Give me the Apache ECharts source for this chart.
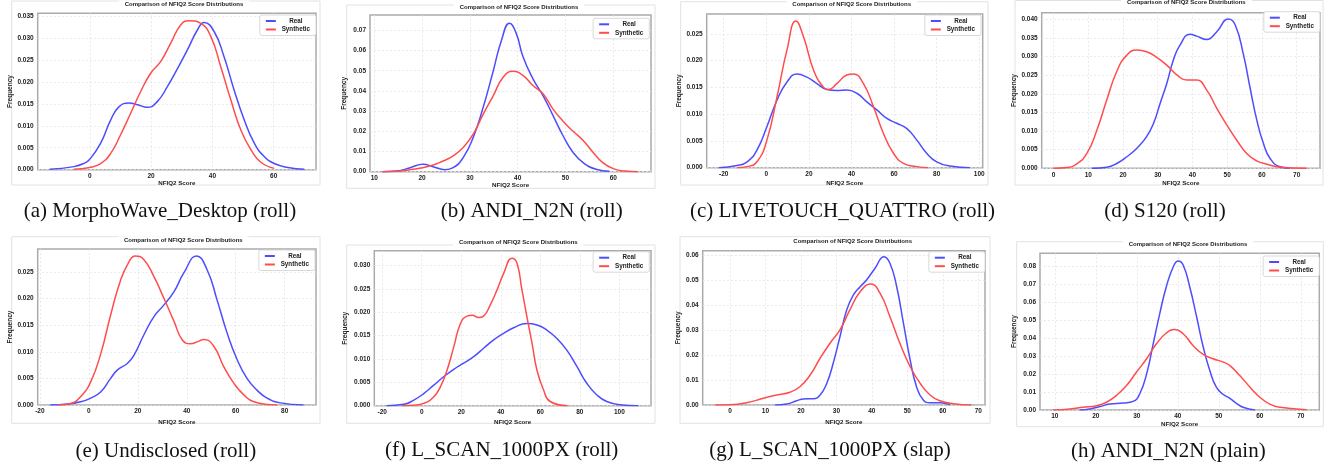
<!DOCTYPE html>
<html><head><meta charset="utf-8">
<script src="https://cdn.jsdelivr.net/npm/echarts@6/dist/echarts.min.js"></script>
<style>html,body{margin:0;padding:0;background:#fff;}#c{width:1330px;height:465px;}</style>
</head><body><div id="c"></div>
<script>
// ---------- DATA (x = NFIQ2 score, y = density) ----------
const realA = [[-13.1,0.0001],[-5.2,0.0007],[-2,0.0014],[0,0.0024],[3.5,0.006],[6.8,0.0113],[9.5,0.0143],[12.8,0.0152],[15.5,0.0148],[18.8,0.0142],[22,0.0155],[25.3,0.0189],[28.6,0.023],[31.8,0.0272],[35.1,0.0318],[37.3,0.0335],[40.6,0.0314],[43.8,0.0257],[47.1,0.0181],[50.4,0.0113],[53.7,0.006],[56.9,0.003],[60.2,0.0014],[64.6,0.0005],[70,0.0001]];
const synA = [[-5.2,0.0001],[0,0.0005],[3.5,0.0014],[6.8,0.0037],[10,0.0079],[13.3,0.0128],[16.6,0.0178],[19.8,0.0219],[23.1,0.0246],[26.4,0.0288],[29.7,0.033],[32.4,0.0339],[36.2,0.0333],[39.5,0.0303],[42.7,0.0235],[46,0.0159],[49.3,0.009],[52.6,0.0045],[55.8,0.0017],[60.2,0.0003]];
const realB = [[11.7,0],[14.7,0.0003],[17.5,0.002],[20.2,0.0037],[22.3,0.0025],[24.8,0.001],[26.5,0.002],[28.6,0.007],[30.7,0.017],[32.8,0.032],[34.9,0.05],[36.6,0.065],[38.3,0.0735],[39.7,0.0685],[41.1,0.057],[43.2,0.046],[45.3,0.0377],[47.4,0.0278],[49.5,0.0178],[51.6,0.0095],[53.7,0.0045],[56.4,0.0012],[59.2,0.0002]];
const synB = [[11.7,0],[14.7,0.0002],[18.1,0.0012],[21.6,0.0028],[24.4,0.0053],[26.5,0.0078],[28.6,0.012],[30.7,0.0186],[32.8,0.0285],[34.9,0.0377],[37,0.0469],[39,0.0497],[41.1,0.0477],[43.2,0.0427],[45.3,0.0386],[47.4,0.031],[49.5,0.025],[51.6,0.02],[53.7,0.0155],[55.8,0.0095],[57.8,0.0045],[60,0.0015],[62.5,0.0003],[65.2,0]];
const realC = [[-22.3,0],[-13.75,0.0004],[-9,0.0011],[-4.4,0.0033],[0.3,0.0077],[5,0.0126],[9.7,0.016],[14.4,0.0175],[19.1,0.0169],[23.75,0.0157],[28.4,0.0146],[33.1,0.0144],[37.8,0.0145],[42.5,0.0139],[47.2,0.0123],[51.9,0.0108],[56.6,0.0092],[61.25,0.0083],[66,0.0073],[70.6,0.0052],[75.3,0.0027],[80,0.0011],[86.25,0.0003],[95.6,0]];
const synC = [[-13.75,0],[-9,0.0002],[-4.4,0.0011],[0.3,0.0052],[5,0.0132],[9.7,0.022],[13.9,0.0274],[17.5,0.0244],[22.2,0.0182],[26.9,0.015],[29.2,0.0146],[33.1,0.0157],[37.8,0.0173],[40.9,0.0175],[45.6,0.0157],[50.3,0.0114],[55,0.0064],[59.7,0.0027],[64.4,0.0008],[70.6,0.0002],[76,0]];
const realD = [[11,0],[15.3,0.0003],[18.2,0.0013],[21.1,0.0031],[24,0.0054],[26.8,0.0085],[28.8,0.0121],[30.7,0.0175],[32.6,0.0228],[34.5,0.0291],[36.4,0.0331],[39.3,0.036],[41.2,0.0355],[44.1,0.0346],[47,0.0367],[50.3,0.0401],[52.3,0.0385],[54.7,0.0304],[56.6,0.0215],[58.5,0.013],[60.4,0.0067],[62.3,0.0027],[65.2,0.0004],[68,0]];
const synD = [[0,0],[3.8,0.0002],[6.7,0.0012],[9.6,0.004],[12.5,0.0103],[15.3,0.0183],[18.2,0.026],[21.1,0.0304],[24,0.0318],[26.8,0.0313],[29.7,0.0298],[32.6,0.0277],[35.5,0.0251],[38.4,0.0237],[41.2,0.0237],[44.1,0.021],[47,0.0161],[49.9,0.0116],[52.7,0.0076],[55.6,0.004],[58.5,0.002],[61.4,0.0011],[65.2,0.0003],[72.9,0]];
const realE = [[-15.8,0],[-8.7,0.0002],[-3.3,0.0006],[0.8,0.0013],[4.9,0.0025],[8.9,0.005],[11.7,0.0066],[15.7,0.0078],[18.5,0.0094],[22.5,0.0132],[26.6,0.0166],[30.7,0.0188],[34.8,0.0213],[38.8,0.0248],[44,0.028],[48.3,0.0254],[52.4,0.0197],[56.5,0.0135],[60.6,0.0085],[64.6,0.005],[68.7,0.0028],[72.8,0.0013],[78.2,0.0004],[87.7,0]];
const synE = [[-12.8,0],[-7.4,0.0003],[-3.3,0.0016],[0.8,0.0044],[4.9,0.0097],[8.9,0.0169],[13,0.0235],[16.4,0.0269],[18.9,0.028],[22.5,0.0273],[26.6,0.0241],[30.7,0.02],[34.8,0.0157],[38.2,0.0122],[41.5,0.0115],[44.5,0.0119],[47,0.0123],[51.1,0.011],[55.1,0.0072],[59.2,0.0041],[63.3,0.0019],[67.4,0.0006],[76.9,0]];
const realF = [[-17.8,0],[-9,0.0003],[-4,0.0012],[1,0.0026],[6.1,0.0044],[11.1,0.0062],[16.2,0.0078],[21.2,0.0091],[26.3,0.0105],[31.3,0.0123],[36.4,0.0141],[41.4,0.0155],[46.5,0.0167],[53.2,0.0176],[58.3,0.0173],[63.3,0.0162],[68.4,0.0144],[73.4,0.0119],[78.5,0.0084],[83.5,0.0048],[88.6,0.0023],[93.6,0.0009],[100.4,0.0002],[109.6,0]];
const synF = [[-9.9,0],[-4,0.0001],[1,0.0005],[6.1,0.0019],[9.5,0.0041],[12.8,0.0076],[16.2,0.0126],[19.6,0.0176],[22.9,0.0192],[25.5,0.0194],[28.8,0.0189],[31.3,0.0192],[34.7,0.0216],[38.1,0.0248],[41.4,0.0283],[45.7,0.0316],[48.2,0.0305],[50.7,0.0248],[53.2,0.0191],[55.8,0.0134],[58.3,0.0076],[61.6,0.0034],[65,0.0009],[73.8,0]];
const realG = [[12.7,0],[16,0.0004],[18.8,0.0017],[20.7,0.0024],[23.5,0.0025],[25.4,0.004],[27.3,0.0087],[29.1,0.0167],[31,0.0273],[32.9,0.038],[34.8,0.044],[36.7,0.0473],[38.5,0.05],[40.9,0.0547],[43.4,0.0593],[45.1,0.0567],[47,0.0473],[48.9,0.0327],[50.8,0.018],[52.6,0.0073],[54.5,0.002],[56.4,0.0009],[59.2,0.0009],[62,0.0001]];
const synG = [[-4.2,0],[0,0.0001],[4.7,0.0009],[9.4,0.0027],[13.2,0.004],[16.9,0.0051],[19.7,0.0073],[22.6,0.012],[25.4,0.0187],[28.2,0.0247],[31,0.03],[33.8,0.038],[36.7,0.0453],[39.7,0.0484],[42.3,0.0447],[45.1,0.0353],[47.9,0.0247],[50.8,0.0153],[53.6,0.0087],[56.4,0.004],[59.2,0.0017],[63,0.0005],[68.1,0]];
const realH = [[16.1,0],[18.5,0.0006],[21,0.0019],[23.4,0.0033],[26.7,0.0039],[29.1,0.0048],[30.7,0.0089],[32.4,0.0201],[34,0.0368],[35.6,0.0536],[37.2,0.0685],[38.9,0.0796],[40.1,0.0828],[41.3,0.0806],[42.9,0.0685],[44.6,0.0517],[46.2,0.035],[47.8,0.022],[49.4,0.0127],[51.1,0.0086],[52.7,0.0065],[54.3,0.0037],[55.9,0.0015],[58.8,0]];
const synH = [[9.6,0],[13.7,0.0006],[16.9,0.0015],[20.2,0.0024],[22.6,0.0043],[25,0.008],[27.5,0.0136],[29.9,0.021],[32.4,0.0285],[34.8,0.0368],[37.2,0.0428],[39.3,0.0447],[41.3,0.0424],[43.7,0.0359],[46.2,0.0309],[48.6,0.0285],[51.1,0.0266],[52.7,0.0247],[55.1,0.0192],[57.6,0.0127],[60,0.0071],[62.4,0.0033],[64.9,0.0015],[71.4,0.0002]];

// tick values
const xTicksA = [0,20,40,60];
const xTicksB = [10,20,30,40,50,60];
const xTicksC = [-20,0,20,40,60,80,100];
const xTicksD = [0,10,20,30,40,50,60,70];
const xTicksE = [-20,0,20,40,60,80];
const xTicksF = [-20,0,20,40,60,80,100];
const xTicksG = [0,10,20,30,40,50,60,70];
const xTicksH = [10,20,30,40,50,60,70];
const yTicksA = [0,0.005,0.01,0.015,0.02,0.025,0.03,0.035];
const yTicksB = [0,0.01,0.02,0.03,0.04,0.05,0.06,0.07];
const yTicksC = [0,0.005,0.01,0.015,0.02,0.025];
const yTicksD = [0,0.005,0.01,0.015,0.02,0.025,0.03,0.035,0.04];
const yTicksE = [0,0.005,0.01,0.015,0.02,0.025];
const yTicksF = [0,0.005,0.01,0.015,0.02,0.025,0.03];
const yTicksG = [0,0.01,0.02,0.03,0.04,0.05,0.06];
const yTicksH = [0,0.01,0.02,0.03,0.04,0.05,0.06,0.07,0.08];

const captions = ['(a) MorphoWave_Desktop (roll)','(b) ANDI_N2N (roll)','(c) LIVETOUCH_QUATTRO (roll)','(d) S120 (roll)',
                  '(e) Undisclosed (roll)','(f) L_SCAN_1000PX (roll)','(g) L_SCAN_1000PX (slap)','(h) ANDI_N2N (plain)'];
const seriesNames = ['Real','Synthetic'];
const chartTitle = 'Comparison of NFIQ2 Score Distributions';
const xName = 'NFIQ2 Score';
const yName = 'Frequency';

// ---------- LAYOUT ----------
const panelData = [
  [realA,synA,xTicksA,yTicksA,3],[realB,synB,xTicksB,yTicksB,2],[realC,synC,xTicksC,yTicksC,3],[realD,synD,xTicksD,yTicksD,3],
  [realE,synE,xTicksE,yTicksE,3],[realF,synF,xTicksF,yTicksF,3],[realG,synG,xTicksG,yTicksG,2],[realH,synH,xTicksH,yTicksH,2]
];
const layout = [
 {l:37.7,t:13.3,w:278.3,h:156.4,xmin:-17,xmax:73.8,ymax:0.0356,ti:[178,5],lr:1014,lt:15,xg:11,yg:23,cap:[160,211.7],fr:[11.7,1,308.3,184]},
 {l:370,t:15,w:281,h:156.7,xmin:9.1,xmax:67.9,ymax:0.0776,ti:[513,8.3],lr:680.7,lt:18.3,xg:9,yg:22,cap:[531.7,211.7],fr:[346.7,5,308.3,183.3]},
 {l:706.7,t:14,w:276,h:153.7,xmin:-28,xmax:101.6,ymax:0.0287,ti:[845.7,5],lr:349,lt:15,xg:13,yg:24,cap:[842.5,211.7],fr:[680.7,1.7,307.3,183.3]},
 {l:1041.7,t:12.7,w:278.3,h:155.6,xmin:-3.4,xmax:76.7,ymax:0.0418,ti:[1180.3,2.7],lr:10,lt:11.7,xg:12,yg:24,cap:[1165,211.7],fr:[1015,0.5,308,184.5]},
 {l:37.7,t:249,w:278.3,h:156,xmin:-20.9,xmax:92.8,ymax:0.0293,ti:[177.3,240.7],lr:1015,lt:250,xg:14.5,yg:23,cap:[165.8,451.7],fr:[11.7,236.7,308.3,186.6]},
 {l:374.3,t:250.7,w:276.7,h:155,xmin:-24,xmax:116,ymax:0.0332,ti:[512.3,242.7],lr:680.7,lt:251.7,xg:14,yg:26,cap:[501.7,450],fr:[346.7,245,308.3,178.3]},
 {l:702.7,t:250.7,w:282.3,h:154.3,xmin:-7.7,xmax:71.9,ymax:0.0617,ti:[846.7,242],lr:345,lt:251.7,xg:14.5,yg:20,cap:[830,450],fr:[680,236.7,310,186.6]},
 {l:1040,t:253.3,w:279.3,h:156.7,xmin:6.4,xmax:74.5,ymax:0.0871,ti:[1182,245.3],lr:10.7,lt:256,xg:9,yg:22,cap:[1168.3,451.7],fr:[1016.7,241.7,306.6,185]}
];

const FONT = 'Liberation Sans';
const BLUE = 'rgb(77,77,255)', RED = 'rgb(255,77,77)';
const TXT = '#222';
const grid=[], xAxis=[], yAxis=[], series=[], title=[], legend=[], graphic=[];

layout.forEach((L,i)=>{
  const [real,syn,xT,yT,dec] = panelData[i];
  graphic.push({type:'rect', z:-10, shape:{x:L.fr[0],y:L.fr[1],width:L.fr[2],height:L.fr[3]}, style:{fill:'none',stroke:'#e2e2e2',lineWidth:1}});
  graphic.push({type:'text', x:L.cap[0], y:L.cap[1], style:{text:captions[i], font:'21px "Liberation Serif"', fill:'#111', align:'center', verticalAlign:'middle'}});
  grid.push({left:L.l, top:L.t, width:L.w, height:L.h, show:true, borderColor:'#ababab', borderWidth:1.5, backgroundColor:'#fff'});
  xAxis.push({type:'value', gridIndex:i, min:L.xmin, max:L.xmax, name:xName, nameLocation:'middle', nameGap:L.xg,
    nameTextStyle:{fontFamily:FONT,fontSize:6.2,fontWeight:'bold',color:TXT},
    axisLine:{show:false}, axisTick:{show:false, customValues:xT},
    axisLabel:{customValues:xT, fontFamily:FONT, fontSize:6.5, fontWeight:'bold', color:TXT, margin:3},
    splitLine:{show:true, lineStyle:{color:'#e4e4e4', type:[2,2], width:0.8}}});
  yAxis.push({type:'value', gridIndex:i, min:0, max:L.ymax, name:yName, nameLocation:'middle', nameGap:L.yg,
    nameTextStyle:{fontFamily:FONT,fontSize:6.5,fontWeight:'bold',color:TXT},
    axisLine:{show:false}, axisTick:{show:false, customValues:yT},
    axisLabel:{customValues:yT, fontFamily:FONT, fontSize:6.5, fontWeight:'bold', color:TXT, margin:4, formatter:v=>v.toFixed(dec)},
    splitLine:{show:true, lineStyle:{color:'#e4e4e4', type:[2,2], width:0.8}}});
  [[real,BLUE,seriesNames[0]],[syn,RED,seriesNames[1]]].forEach(([d,c,n])=>{
    series.push({type:'line', name:n, xAxisIndex:i, yAxisIndex:i, data:d, showSymbol:false, symbol:'none',
      smooth:0.5, lineStyle:{color:c,width:1.5}, itemStyle:{color:c}, animation:false});
  });
  title.push({text:chartTitle, left:L.ti[0], top:L.ti[1]-4.5, textAlign:'center', padding:[1,6], backgroundColor:'#fff',
    textStyle:{fontFamily:FONT,fontSize:6,fontWeight:'bold',color:TXT}});
  legend.push({right:L.lr, top:L.lt, orient:'vertical', data:seriesNames, icon:'rect', itemWidth:10, itemHeight:2, itemGap:2.5,
    padding:[3,6], backgroundColor:'#fff', borderColor:'#cfcfcf', borderWidth:0.8, borderRadius:2,
    formatter:n=>'{c|'+n+'}',
    textStyle:{rich:{c:{width:30,align:'center',fontFamily:FONT,fontSize:6.3,fontWeight:'bold',color:TXT}}}});
});

const chart = echarts.init(document.getElementById('c'), null, {renderer:'canvas'});
chart.setOption({backgroundColor:'#fff', animation:false, grid, xAxis, yAxis, series, title, legend, graphic});
</script></body></html>
